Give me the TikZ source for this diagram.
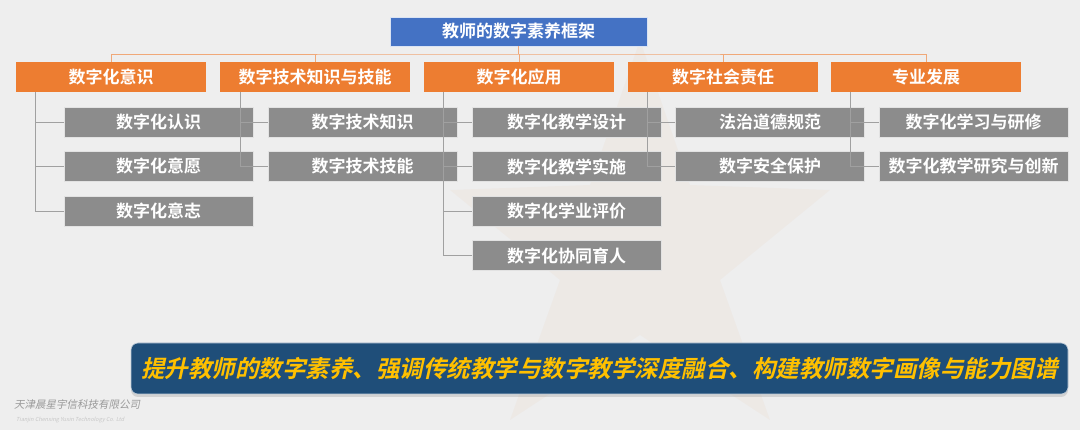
\documentclass[tikz,border=0pt]{standalone}
\usepackage{fontspec}
\newfontfamily\cjk{Noto Sans CJK SC}
\newfontfamily\cjkb{Noto Sans CJK SC Bold}
\newfontfamily\cjkbi{Noto Sans CJK SC Bold}[FakeSlant=0.22]
\newfontfamily\cjki{Noto Sans CJK SC}[FakeSlant=0.2]
\usetikzlibrary{shadows}
\definecolor{bg}{HTML}{EEEEEE}
\definecolor{topblue}{HTML}{4472C4}
\definecolor{orng}{HTML}{ED7D31}
\definecolor{graybox}{HTML}{8C8C8C}
\definecolor{bannerblue}{HTML}{1F4E79}
\definecolor{yel}{HTML}{FFC000}
\definecolor{orline}{HTML}{F0A878}
\definecolor{grline}{HTML}{A0A0A0}
\tikzset{
  topbox/.style={fill=topblue, draw=white!80!topblue, line width=0.8pt, minimum width=257pt, minimum height=29pt, inner sep=0pt, text=white, font=\cjkb\fontsize{17}{18}\selectfont},
  catbox/.style={fill=orng, minimum width=190pt, minimum height=30pt, inner sep=0pt, text=white, font=\cjkb\fontsize{17}{18}\selectfont},
  subbox/.style={fill=graybox, draw=white!75!graybox, line width=0.8pt, minimum width=189pt, minimum height=30pt, inner sep=0pt, text=white, font=\cjkb\fontsize{17}{18}\selectfont},
  orconn/.style={draw=orline, line width=0.9pt},
  grconn/.style={draw=grline, line width=0.7pt},
}
\begin{document}
\begin{tikzpicture}[x=1pt,y=-1pt]
\useasboundingbox (0,0) rectangle (1080,430);
\fill[bg] (0,0) rectangle (1080,430);
% faint star
\fill[orng, opacity=0.045]
  (640,40) -- (690,185) -- (830,190) -- (720,280) -- (770,420)
  -- (640,335) -- (510,420) -- (560,280) -- (450,190) -- (590,185) -- cycle;

% top
\node[topbox] (top) at (518.5,31.5) {教师的数字素养框架};

% categories
\node[catbox] (o1) at (111,77) {数字化意识};
\node[catbox] (o2) at (315,77) {数字技术知识与技能};
\node[catbox] (o3) at (519,77) {数字化应用};
\node[catbox] (o4) at (723,77) {数字社会责任};
\node[catbox] (o5) at (926,77) {专业发展};

% sub items
\node[subbox] (g11) at (158.5,122) {数字化认识};
\node[subbox] (g12) at (158.5,166.5) {数字化意愿};
\node[subbox] (g13) at (158.5,211) {数字化意志};

\node[subbox] (g21) at (362.5,122) {数字技术知识};
\node[subbox] (g22) at (362.5,166.5) {数字技术技能};

\node[subbox] (g31) at (566.5,122) {数字化教学设计};
\node[subbox] (g32) at (566.5,166.5) {数字化教学实施};
\node[subbox] (g33) at (566.5,211) {数字化学业评价};
\node[subbox] (g34) at (566.5,255.5) {数字化协同育人};

\node[subbox] (g41) at (770,122) {法治道德规范};
\node[subbox] (g42) at (770,166.5) {数字安全保护};

\node[subbox] (g51) at (973.5,122) {数字化学习与研修};
\node[subbox] (g52) at (973.5,166.5) {数字化教学研究与创新};

% top connectors
\coordinate (bus) at (518.5,54);
\draw[orconn] (top.south) -- (bus);
\draw[orconn] (o1.north) |- (bus) -| (o5.north);
\draw[orconn] (o2.north) -- (o2.north |- bus);
\draw[orconn] (o3.north) -- (o3.north |- bus);
\draw[orconn] (o4.north) -- (o4.north |- bus);

% sub connectors
\coordinate (t1) at ([xshift=-76pt]o1.south);
\coordinate (t2) at ([xshift=-75pt]o2.south);
\coordinate (t3) at ([xshift=-76pt]o3.south);
\coordinate (t4) at ([xshift=-76pt]o4.south);
\coordinate (t5) at ([xshift=-76pt]o5.south);

\draw[grconn] (t1) |- (g13.west);
\draw[grconn] (t1 |- g11.west) -- (g11.west);
\draw[grconn] (t1 |- g12.west) -- (g12.west);

\draw[grconn] (t2) |- (g22.west);
\draw[grconn] (t2 |- g21.west) -- (g21.west);

\draw[grconn] (t3) |- (g34.west);
\draw[grconn] (t3 |- g31.west) -- (g31.west);
\draw[grconn] (t3 |- g32.west) -- (g32.west);
\draw[grconn] (t3 |- g33.west) -- (g33.west);

\draw[grconn] (t4) |- (g42.west);
\draw[grconn] (t4 |- g41.west) -- (g41.west);

\draw[grconn] (t5) |- (g52.west);
\draw[grconn] (t5 |- g51.west) -- (g51.west);

% banner
\node[fill=bannerblue, draw=white!70!bannerblue, line width=0.6pt, rounded corners=7pt,
      minimum width=937pt, minimum height=51pt, inner sep=0pt,
      drop shadow={shadow xshift=0pt, shadow yshift=-3pt, opacity=0.25},
      text=yel, font=\cjkbi\fontsize{23.5}{26}\selectfont] (banner) at (599.5,368.5)
  {提升教师的数字素养、强调传统教学与数字教学深度融合、构建教师数字画像与能力图谱};

% footer
\node[anchor=west, inner sep=0pt, text=black!40, font=\cjki\fontsize{10.5}{12}\selectfont] (comp) at (14,405) {天津晨星宇信科技有限公司};
\node[anchor=west, inner sep=0pt, text=black!22, font=\cjki\fontsize{5.5}{6}\selectfont] (compen) at (16,420) {Tianjin Chenxing Yuxin Technology Co. Ltd};
\end{tikzpicture}
\end{document}
